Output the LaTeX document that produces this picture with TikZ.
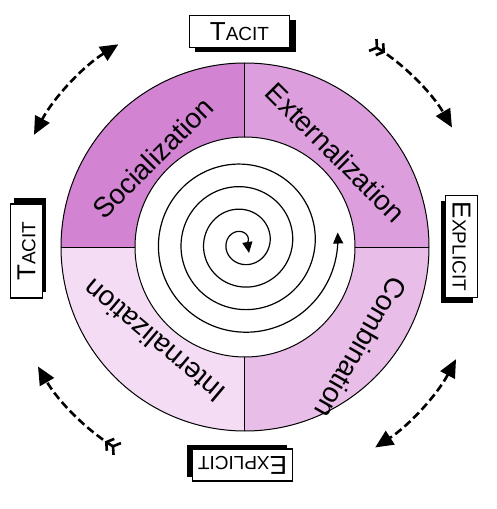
\documentclass[tikz,border=0pt]{standalone}
\usepackage{fontspec}
\setmainfont{Liberation Sans}
\usetikzlibrary{arrows.meta}

\definecolor{socfill}{HTML}{D283D2}
\definecolor{extfill}{HTML}{DD9EDD}
\definecolor{comfill}{HTML}{E8BDE8}
\definecolor{intfill}{HTML}{F4DCF4}

\tikzset{
  modebox/.style={draw, line width=1.3pt, fill=white, minimum width=100pt,
    minimum height=32pt, inner sep=0pt},
  modeshadow/.style={fill=black, minimum width=100pt, minimum height=32pt,
    inner sep=0pt},
  phase/.style={font=\fontsize{28}{32}\selectfont, inner sep=0pt},
  convert/.style={line width=2.6pt, dash pattern=on 8pt off 4pt},
  oneway/.style={convert,
    {Straight Barb[reversed,length=5pt,width=14pt]Straight Barb[reversed,length=5pt,width=14pt]}-{Triangle[length=18pt,width=16pt]}},
  twoway/.style={convert,
    {Triangle[length=18pt,width=16pt]}-{Triangle[length=18pt,width=16pt]}},
  coil/.style={line width=1.2pt,
    {Triangle[length=11pt,width=10pt]}-{Triangle[length=11pt,width=10pt]}}
}
\newcommand{\fakesc}[2]{{\fontsize{26}{26}\selectfont #1}{\fontsize{19}{19}\selectfont #2}}

\begin{document}
\begin{tikzpicture}[x=1pt,y=1pt]
%%%%% sizes
\def\ri{110}
\def\ro{184}
\def\ra{239}
\useasboundingbox (-245,-262) rectangle (251,247);

%%%%% the four quadrants
\foreach \a/\c in {90/socfill,0/extfill,270/comfill,180/intfill}
  \fill[\c] (\a:\ro) arc[start angle=\a, end angle=\a+90, radius=\ro pt]
    -- ({\a+90}:\ri) arc[start angle=\a+90, end angle=\a, radius=\ri pt] -- cycle;
\draw[line width=1pt] (0,0) circle[radius=\ro pt];
\draw[line width=1pt] (0,0) circle[radius=\ri pt];
\foreach \a in {0,90,180,270}
  \draw[line width=1pt] (\a:\ri) -- (\a:\ro);

\node[phase, rotate=45] (soc) at (136:128) {Socialization};
\node[phase, rotate=-45] (ext) at (46:131) {Externalization};
\node[phase, rotate=-120] (com) at (-41:154) {Combination};
\node[phase, rotate=140] (int) at (226:131) {Internalization};

%%%%% spiral
\begin{scope}[shift={(-2.5,4.5)}]
\coordinate (coilin) at (6.5,-10.5);
\draw[coil] (coilin) -- plot[domain=0:1446, samples=400, smooth]
  ({(4.9+\x/360*22.6)*cos(\x)}, {(4.9+\x/360*22.6)*sin(\x)});
\end{scope}

%%%%% tacit / explicit boxes
\node[modeshadow] (tacitTs) at (0.5,210.5) {};
\node[modebox] (tacitT) at (-5.5,215.5) {\fakesc{T}{ACIT}};
\node[modeshadow, minimum width=102pt, rotate=-90] (explRs) at (211.5,-4.5) {};
\node[modebox, minimum width=102pt, rotate=-90] (explR) at (216.5,0.5) {\fakesc{E}{XPLICIT}};
\node[modeshadow, minimum width=94pt, rotate=90] (tacitLs) at (-214.5,2) {};
\node[modebox, minimum width=94pt, rotate=90] (tacitL) at (-218.5,-4) {\fakesc{T}{ACIT}};
\node[modeshadow, rotate=180] (explBs) at (-7.5,-214) {};
\node[modebox, rotate=180] (explB) at (-2.5,-218) {\fakesc{E}{XPLICIT}};

%%%%% conversion arrows
\coordinate (trA) at (58:\ra);
\coordinate (tlA) at (122:\ra);
\coordinate (blA) at (238:\ra);
\coordinate (brA) at (-28:\ra);
\draw[oneway] (trA) arc[start angle=58, end angle=30, radius=\ra pt];
\draw[twoway] (tlA) arc[start angle=122, end angle=152, radius=\ra pt];
\draw[oneway] (blA) arc[start angle=238, end angle=210, radius=\ra pt];
\draw[twoway] (brA) arc[start angle=-28, end angle=-57, radius=\ra pt];
\end{tikzpicture}
\end{document}
